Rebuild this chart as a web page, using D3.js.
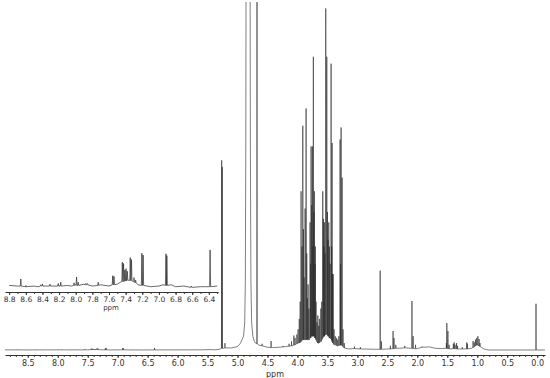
<!DOCTYPE html>
<html>
<head>
<meta charset="utf-8">
<script src="https://cdn.jsdelivr.net/npm/d3@7"></script>
<style>
	body { margin: 0; background: #fff; }
	svg { display: block; }
	text { font-family: "DejaVu Sans", Verdana, sans-serif; }
</style>
</head>
<body>
<div id="chart"></div>
<script>
// baseline envelope of the spectrum [ppm, intensity] (intensity in % of plot height)
const baseline = [
	[8.88, 0.03], [8.8, 0.04], [8.7, 0.03], [8.6, 0.02], [8.5, 0.03], [8.45, 0.02], [8.4, 0.04],
	[8.25, 0.03], [8.1, 0.04], [8.05, 0.03], [8.0, 0.05], [7.9, 0.06], [7.8, 0.03], [7.7, 0.05],
	[7.6, 0.03], [7.5, 0.06], [7.45, 0.1], [7.35, 0.12], [7.3, 0.1], [7.25, 0.05], [7.1, 0.02],
	[7.0, 0.03], [6.95, 0.05], [6.85, 0.05], [6.8, 0.02], [6.7, 0.03], [6.6, 0.01], [6.5, 0.02],
	[6.45, 0.02], [6.3, 0.03], [6.2, 0.03], [6.0, 0.03], [5.8, 0.04],
	[5.6, 0.05], [5.45, 0.12], [5.38, 0.06], [5.3, 0.2], [5.22, 0.5], [5.1, 0.6], [5.0, 1.0],
	[4.95, 2], [4.9, 4], [4.88, 8], [4.87, 20], [4.862, 60], [4.856, 130], [4.792, 130],
	[4.786, 60], [4.777, 20], [4.765, 8], [4.745, 4], [4.72, 2.5], [4.7, 2], [4.65, 1.5],
	[4.6, 1.2], [4.5, 0.8], [4.4, 0.7], [4.3, 0.8], [4.2, 1.0], [4.1, 1.2], [4.05, 1.5],
	[4.0, 2], [3.95, 2.2], [3.9, 3], [3.85, 3], [3.8, 3], [3.75, 4], [3.7, 3.5], [3.65, 2],
	[3.6, 2.5], [3.55, 4], [3.5, 4.5], [3.45, 3.5], [3.42, 2.5], [3.38, 1.5], [3.33, 1.2], [3.3, 1.4],
	[3.25, 1.4], [3.22, 0.6], [3.15, 0.3], [3.05, 0.4], [2.9, 0.3], [2.7, 0.2], [2.5, 0.3],
	[2.3, 0.5], [2.2, 0.6], [2.1, 0.5], [2.0, 0.4], [1.9, 0.8], [1.8, 0.9], [1.7, 0.5],
	[1.6, 0.4], [1.52, 0.5], [1.45, 0.3], [1.4, 0.4], [1.3, 0.3], [1.2, 0.3], [1.1, 0.5],
	[1.05, 1.0], [1.0, 1.5], [0.95, 1.0], [0.9, 0.4], [0.85, 0.1], [0.8, 0], [-0.13, 0]
]

// sharp lines [ppm, top, base]
const peaks = [
	// aromatic region (tiny in the full spectrum, see inset)
	[8.66, 0.14, 0.03], [8.60, 0.04, 0.02], [8.42, 0.05, 0.03], [8.40, 0.06, 0.03],
	[8.31, 0.06, 0.03], [8.21, 0.07, 0.03], [8.18, 0.09, 0.03], [8.02, 0.08, 0.04],
	[7.99, 0.17, 0.04], [7.97, 0.09, 0.04], [7.88, 0.07, 0.05], [7.86, 0.07, 0.05],
	[7.73, 0.09, 0.04], [7.555, 0.19, 0.05], [7.54, 0.18, 0.05], [7.44, 0.40, 0.1],
	[7.425, 0.38, 0.1], [7.41, 0.28, 0.11], [7.395, 0.30, 0.11], [7.38, 0.26, 0.12],
	[7.345, 0.47, 0.12], [7.33, 0.44, 0.11], [7.30, 0.16, 0.1], [7.28, 0.12, 0.08],
	[7.205, 0.54, 0.04], [7.19, 0.51, 0.04], [6.915, 0.53, 0.04], [6.905, 0.50, 0.04],
	[6.61, 0.03, 0.01], [6.385, 0.59, 0.02],
	// anomeric and water
	[5.265, 55, 0.5], [5.255, 53, 0.5], [5.21, 2, 0.6], [4.675, 130, 1.8],
	[4.59, 1.8, 1.2], [4.44, 2.6, 0.7],
	// sugar region
	[4.24, 1.2, 0.9], [4.14, 1.8, 1.1], [4.10, 2.5, 1.2], [4.06, 4.2, 1.4], [4.04, 3.5, 1.5],
	[4.01, 4.5, 1.8], [3.99, 6, 2], [3.97, 9, 2.1], [3.955, 14, 2.2], [3.94, 46, 2.5],
	[3.925, 30, 2.8], [3.911, 65, 3], [3.90, 35, 3], [3.89, 21, 3], [3.873, 41, 3],
	[3.856, 70, 3], [3.845, 28, 3], [3.835, 15, 3], [3.823, 19, 3], [3.81, 12, 3],
	[3.79, 37, 3.5], [3.78, 25, 3.5], [3.773, 59, 4], [3.762, 42, 4], [3.751, 59, 4],
	[3.742, 30, 4], [3.735, 85, 4], [3.727, 40, 4], [3.718, 46, 4], [3.708, 25, 3.5],
	[3.701, 30, 3.5], [3.69, 14, 3], [3.675, 8, 2.5], [3.66, 10, 2], [3.645, 7, 2],
	[3.63, 9, 2.2], [3.61, 12, 2.5], [3.595, 14, 3], [3.578, 46, 3.5], [3.567, 38, 4],
	[3.558, 30, 4], [3.551, 37, 4], [3.54, 28, 4.5], [3.528, 99, 4.5], [3.511, 85, 4.5],
	[3.50, 40, 4.5], [3.49, 32, 4], [3.478, 37, 4], [3.467, 30, 3.5], [3.456, 25, 3.5],
	[3.439, 83, 3.2], [3.43, 30, 3], [3.422, 60, 2.5], [3.412, 22, 2.2], [3.406, 22, 2],
	[3.39, 6, 1.6], [3.37, 4, 1.5], [3.35, 3.5, 1.3], [3.33, 3, 1.2], [3.31, 4, 1.3],
	[3.289, 61, 1.4], [3.28, 25, 1.4], [3.272, 64.5, 1.4], [3.255, 50, 1.4], [3.24, 6, 1],
	[3.22, 2, 0.6],
	// aliphatic region
	[3.05, 1.0, 0.4], [2.95, 0.8, 0.3], [2.62, 23, 0.2], [2.60, 2.5, 0.2], [2.45, 1.2, 0.3],
	[2.405, 5.5, 0.4], [2.39, 3.5, 0.4], [2.36, 1.5, 0.5], [2.21, 1.2, 0.6], [2.09, 14.2, 0.5],
	[2.07, 4, 0.45], [2.03, 1.5, 0.4], [1.92, 1.0, 0.8], [1.515, 2, 0.5], [1.508, 7.8, 0.5],
	[1.49, 5.5, 0.4], [1.47, 1.5, 0.35], [1.40, 1.8, 0.4], [1.385, 2.2, 0.4], [1.37, 1.5, 0.35],
	[1.345, 2.0, 0.3], [1.33, 1.2, 0.3], [1.25, 0.8, 0.3], [1.175, 2.2, 0.3], [1.165, 1.8, 0.3],
	[1.07, 2.6, 0.7], [1.05, 2.2, 1.0], [1.03, 3.0, 1.2], [1.01, 3.5, 1.4], [0.99, 4.0, 1.4],
	[0.97, 3.2, 1.2], [0.955, 2.0, 1.0], [0.02, 13.4, 0]
]

// axis ticks
const mainTicks = [8.5, 8.0, 7.5, 7.0, 6.5, 6.0, 5.5, 5.0, 4.5, 4.0, 3.5, 3.0, 2.5, 2.0, 1.5, 1.0, 0.5, 0.0]
const insetTicks = [8.8, 8.6, 8.4, 8.2, 8.0, 7.8, 7.6, 7.4, 7.2, 7.0, 6.8, 6.6, 6.4]

const width = 550
const height = 378

// build the trace: baseline envelope plus each line as base/top/base
function trace(lo, hi, hw) {
	var pts = baseline.slice()
	peaks.forEach(function (p) {
		pts.push([p[0] + hw, p[2]])
		pts.push([p[0], p[1]])
		pts.push([p[0] - hw, p[2]])
	})
	pts = pts.filter(d => d[0] <= hi && d[0] >= lo)
	pts.sort((a, b) => b[0] - a[0])
	return pts
}

const svg = d3.select("#chart")
	.append("svg")
	.attr("width", width)
	.attr("height", height)

svg.append("defs").append("clipPath")
	.attr("id", "clip")
	.append("rect")
	.attr("x", 0).attr("y", 2)
	.attr("width", width).attr("height", height)

// main spectrum
const x = d3.scaleLinear()
	.domain([8.88, -0.13])
	.range([5, 545])

const y = d3.scaleLinear()
	.domain([0, 100])
	.range([350, 5])

const line = d3.line()
	.x(d => x(d[0]))
	.y(d => y(d[1]))

svg.append("path")
	.attr("clip-path", "url(#clip)")
	.attr("fill", "none")
	.attr("stroke", "#2a2a2a")
	.attr("stroke-width", 0.6)
	.attr("d", line(trace(-0.13, 8.88, 0.003)))

const xAxis = g => g
	.attr("transform", "translate(0,355)")
	.call(d3.axisBottom(x).tickValues(mainTicks).tickFormat(d3.format(".1f")).tickSize(3).tickSizeOuter(0))
	.call(g => g.select(".domain").attr("stroke", "#333"))
	.call(g => g.selectAll(".tick line").attr("stroke", "#333"))
	.call(g => g.selectAll(".tick text").attr("fill", "#333").attr("font-size", 8).attr("dy", "0.6em")
		.attr("font-family", "'DejaVu Sans', Verdana, sans-serif"))

svg.append("g").call(xAxis)

svg.append("g")
	.attr("transform", "translate(0,355)")
	.call(d3.axisBottom(x).tickValues(d3.range(-1, 89).map(d => d / 10)).tickFormat("").tickSize(2).tickSizeOuter(0))
	.call(g => g.select(".domain").remove())
	.call(g => g.selectAll(".tick line").attr("stroke", "#333"))

svg.append("text")
	.attr("x", 275).attr("y", 377)
	.attr("text-anchor", "middle")
	.attr("font-size", 8)
	.attr("fill", "#333")
	.text("ppm")

// inset: aromatic region, vertically expanded
const xi = d3.scaleLinear()
	.domain([8.85, 6.29])
	.range([5, 218])

const yi = d3.scaleLinear()
	.domain([0, 0.62])
	.range([288, 248])

const lineInset = d3.line()
	.x(d => xi(d[0]))
	.y(d => yi(d[1]))

svg.append("path")
	.attr("fill", "none")
	.attr("stroke", "#2a2a2a")
	.attr("stroke-width", 0.7)
	.attr("d", lineInset(trace(6.29, 8.85, 0.006)))

svg.append("g")
	.attr("transform", "translate(0,292)")
	.call(d3.axisBottom(xi).tickValues(insetTicks).tickFormat(d3.format(".1f")).tickSize(3).tickSizeOuter(0))
	.call(g => g.select(".domain").attr("stroke", "#333"))
	.call(g => g.selectAll(".tick line").attr("stroke", "#333"))
	.call(g => g.selectAll(".tick text").attr("fill", "#333").attr("font-size", 7.5).attr("dy", "0.55em")
		.attr("font-family", "'DejaVu Sans', Verdana, sans-serif"))

svg.append("g")
	.attr("transform", "translate(0,292)")
	.call(d3.axisBottom(xi).tickValues(d3.range(63, 89).map(d => d / 10)).tickFormat("").tickSize(2).tickSizeOuter(0))
	.call(g => g.select(".domain").remove())
	.call(g => g.selectAll(".tick line").attr("stroke", "#333"))

svg.append("text")
	.attr("x", 111).attr("y", 310)
	.attr("text-anchor", "middle")
	.attr("font-size", 7)
	.attr("fill", "#333")
	.text("ppm")
</script>
</body>
</html>
